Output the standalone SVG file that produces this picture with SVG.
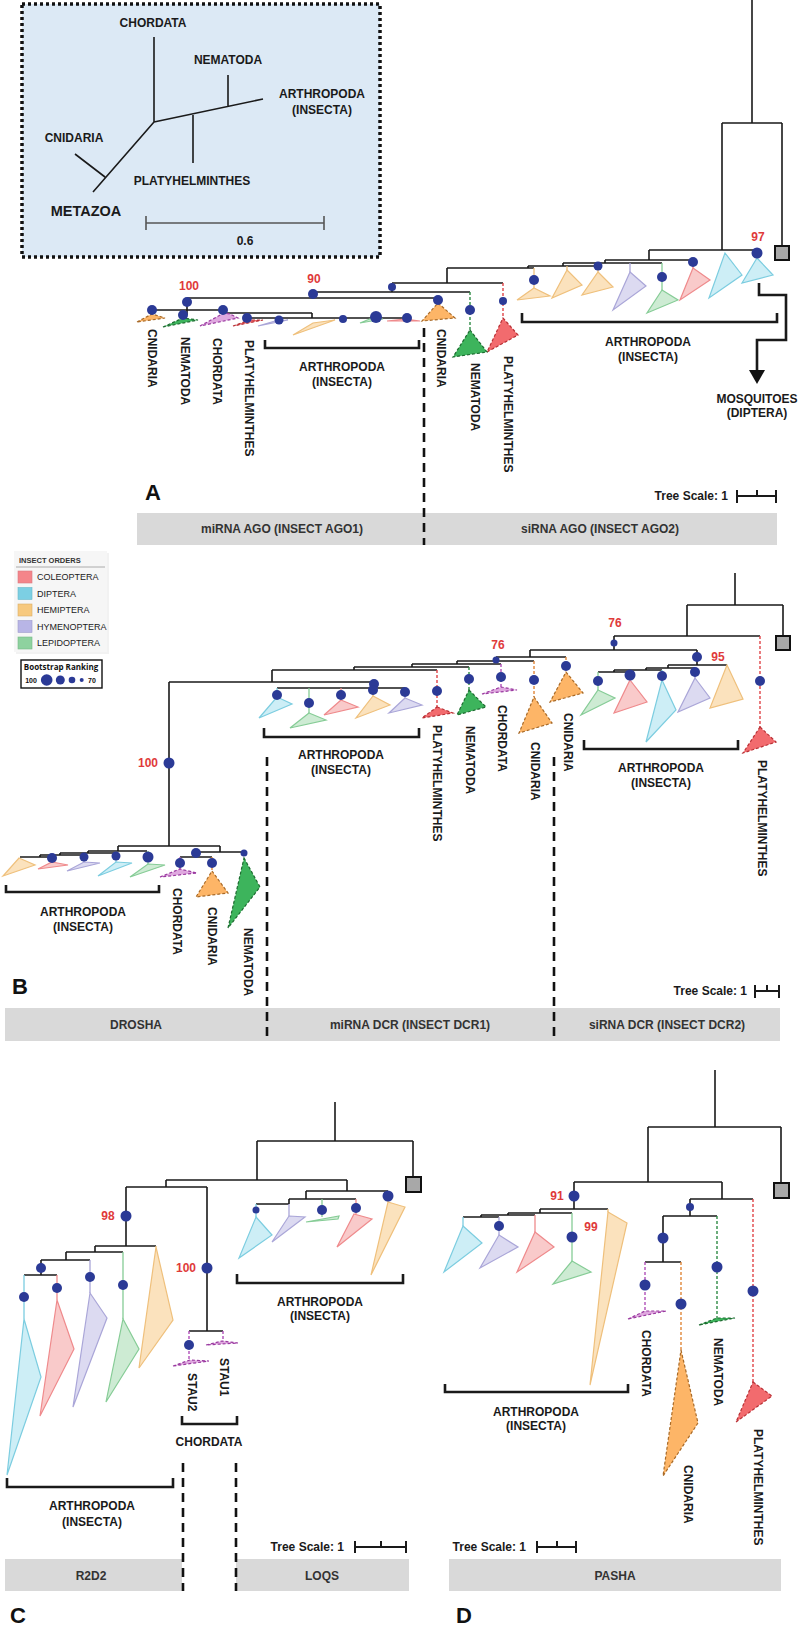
<svg xmlns="http://www.w3.org/2000/svg" width="800" height="1626" viewBox="0 0 800 1626">
<style>
.ln{stroke:#1a1a1a;stroke-width:1.6;fill:none}
.br{stroke:#1a1a1a;stroke-width:2.6;fill:none}
.sc{stroke:#1a1a1a;stroke-width:2;fill:none}
.nd{fill:#2b3a96}
.t{font-family:"Liberation Sans",Arial,sans-serif;font-weight:bold;font-size:12px;fill:#1a1a1a}
.c{text-anchor:middle}
.e{text-anchor:end}
.bs{font-family:"Liberation Sans",Arial,sans-serif;font-weight:bold;font-size:12px;fill:#e03a3a;text-anchor:middle}
.big{font-family:"Liberation Sans",Arial,sans-serif;font-weight:bold;font-size:22px;fill:#111;text-anchor:middle}
.bar{fill:#d9d9d9}
.bt{font-family:"Liberation Sans",Arial,sans-serif;font-weight:bold;font-size:12px;fill:#333;text-anchor:middle}
.sep{stroke:#111;stroke-width:2.6;stroke-dasharray:9 6;fill:none}
.sq{fill:#a8a8a8;stroke:#111;stroke-width:2}
.cy{fill:#cdeef6;stroke:#7ccde0;stroke-width:1.2}
.pk{fill:#f9caca;stroke:#ef8a8c;stroke-width:1.2}
.or{fill:#fbe2bd;stroke:#efc07c;stroke-width:1.2}
.lv{fill:#dcdaf1;stroke:#aaa6d8;stroke-width:1.2}
.gn{fill:#cdebd3;stroke:#86cc96;stroke-width:1.2}
.cn{fill:#fdb567;stroke:#a86a28;stroke-width:1.2;stroke-dasharray:3 2}
.nm{fill:#3db45c;stroke:#1d6b30;stroke-width:1.2;stroke-dasharray:3 2}
.pl{fill:#f26b6e;stroke:#b83035;stroke-width:1.2;stroke-dasharray:3 2}
.ch{fill:#dfa8df;stroke:#9a3aa0;stroke-width:1.2;stroke-dasharray:3 2}
.dcn{stroke:#e0873a;stroke-width:1.4;stroke-dasharray:3 2;fill:none}
.dnm{stroke:#2e8b45;stroke-width:1.4;stroke-dasharray:3 2;fill:none}
.dpl{stroke:#e04448;stroke-width:1.4;stroke-dasharray:3 2;fill:none}
.dch{stroke:#b050b8;stroke-width:1.4;stroke-dasharray:3 2;fill:none}
.lcy{stroke:#7ccde0;stroke-width:1.3;fill:none}
.lpk{stroke:#ef8a8c;stroke-width:1.3;fill:none}
.lor{stroke:#efc07c;stroke-width:1.3;fill:none}
.llv{stroke:#aaa6d8;stroke-width:1.3;fill:none}
.lgn{stroke:#86cc96;stroke-width:1.3;fill:none}
.lt{font-family:"Liberation Sans",Arial,sans-serif;font-size:9px;fill:#222}
</style>

<!-- Inset -->
<g id="inset">
<rect x="22" y="4" width="358" height="253" fill="#dce9f5" stroke="#111" stroke-width="3.5" stroke-dasharray="3 3"/>
<path class="ln" stroke-width="2" d="M154,37 V122 M154,122 L263,99 M228,107 V75 M193,115 V163 M154,122 L93,192 M105,177 L75,154"/>
<text class="t c" x="153" y="27">CHORDATA</text>
<text class="t c" x="228" y="64">NEMATODA</text>
<text class="t c" x="322" y="98">ARTHROPODA</text>
<text class="t c" x="322" y="114">(INSECTA)</text>
<text class="t c" x="74" y="142">CNIDARIA</text>
<text class="t c" x="192" y="185">PLATYHELMINTHES</text>
<text class="t c" x="86" y="216" style="font-size:14.5px">METAZOA</text>
<path d="M146,223 H324 M146,216 V230 M324,216 V230" stroke="#555" stroke-width="1.6" fill="none"/>
<text class="t c" x="245" y="245">0.6</text>
</g>

<!-- Panel A -->
<g id="panelA">
<g id="connectorsA">
<path class="ln" d="M752,0 V123 M722,123 H782 M782,123 V246 M722,123 V250 M649,250 H757 M649,250 V260 M605,260 H693 M605,260 V263 M563,263 H662 M563,263 V266 M528,266 H598 M528,266 V268 M447,268 H534 M447,268 V283 M392,283 H503 M392,283 V292 M313,292 H470 M313,292 V298 M187,298 H438 M187,298 V315 M152,310 H223 M223,313 H312 M312,313 V318 M247,318 H407"/>
<path class="lpk" d="M693,260 V268"/>
<path class="lgn" d="M662,263 V290"/>
<path class="llv" d="M630,263 V272"/>
<path class="lor" d="M598,266 V272 M567,266 V270 M534,268 V288"/>
<path class="lcy" d="M757,250 V258"/>
<path class="dpl" d="M503,283 V318"/>
<path class="dnm" d="M470,292 V330"/>
<path class="dcn" d="M438,298 V303"/>
</g>
<rect class="sq" x="775" y="246" width="14" height="14"/>
<g id="cladesA">
<polygon class="cy" points="757,258 773,275 742,283"/>
<polygon class="cy" points="725,253 742,275 709,298"/>
<polygon class="pk" points="693,268 710,280 680,300"/>
<polygon class="gn" points="662,290 678,300 647,313"/>
<polygon class="lv" points="630,272 646,286 613,310"/>
<polygon class="or" points="598,272 613,287 582,295"/>
<polygon class="or" points="567,270 582,285 552,298"/>
<polygon class="or" points="534,288 550,296 517,300"/>
<polygon class="pl" points="503,318 518,335 487,352"/>
<polygon class="nm" points="470,330 487,352 453,357"/>
<polygon class="cn" points="438,303 455,318 422,321"/>
<polygon class="pk" points="387,321 405,319 420,321"/>
<polygon class="gn" points="360,323 372,318 383,319"/>
<polygon class="or" points="335,320 313,323 293,335"/>
<polygon class="lv" points="258,326 275,321 288,320"/>
<polygon class="pl" points="233,326 250,320 263,320"/>
<polygon class="ch" points="200,326 224,313 230,314 238,318"/>
<polygon class="nm" points="163,327 183,318 198,320"/>
<polygon class="cn" points="137,322 152,314 165,318"/>
</g>
<g id="nodesA">
<circle class="nd" cx="757" cy="253" r="5.5"/>
<circle class="nd" cx="693" cy="262" r="5"/>
<circle class="nd" cx="662" cy="277" r="5"/>
<circle class="nd" cx="598" cy="266" r="4.5"/>
<circle class="nd" cx="534" cy="280" r="5"/>
<circle class="nd" cx="503" cy="301" r="4"/>
<circle class="nd" cx="470" cy="310" r="5"/>
<circle class="nd" cx="438" cy="300" r="5"/>
<circle class="nd" cx="392" cy="287" r="4"/>
<circle class="nd" cx="313" cy="294" r="5"/>
<circle class="nd" cx="187" cy="302" r="5"/>
<circle class="nd" cx="152" cy="310" r="5"/>
<circle class="nd" cx="183" cy="315" r="5"/>
<circle class="nd" cx="223" cy="310" r="5"/>
<circle class="nd" cx="247" cy="318" r="5"/>
<circle class="nd" cx="279" cy="320" r="4.5"/>
<circle class="nd" cx="343" cy="319" r="4"/>
<circle class="nd" cx="376" cy="317" r="6"/>
<circle class="nd" cx="407" cy="318" r="5"/>
</g>
<text class="bs" x="758" y="241">97</text>
<text class="bs" x="189" y="290">100</text>
<text class="bs" x="314" y="283">90</text>
<path class="br" stroke-width="3" d="M759,283 V295 H786 V340 H757 V371"/>
<polygon points="749,370 765,370 757,384" fill="#111"/>
<text class="t c" x="757" y="403">MOSQUITOES</text>
<text class="t c" x="757" y="417">(DIPTERA)</text>
<path class="br" d="M265,340 V348 H419 V340"/>
<text class="t c" x="342" y="371">ARTHROPODA</text>
<text class="t c" x="342" y="386">(INSECTA)</text>
<path class="br" d="M522,313 V322 H777 V313"/>
<text class="t c" x="648" y="346">ARTHROPODA</text>
<text class="t c" x="648" y="361">(INSECTA)</text>
<text class="t" transform="translate(147.7,329) rotate(90)">CNIDARIA</text>
<text class="t" transform="translate(180.7,337) rotate(90)">NEMATODA</text>
<text class="t" transform="translate(212.7,338) rotate(90)">CHORDATA</text>
<text class="t" transform="translate(244.7,340) rotate(90)">PLATYHELMINTHES</text>
<text class="t" transform="translate(436.7,329) rotate(90)">CNIDARIA</text>
<text class="t" transform="translate(470.7,363) rotate(90)">NEMATODA</text>
<text class="t" transform="translate(503.7,356) rotate(90)">PLATYHELMINTHES</text>
<text class="big" x="153" y="500">A</text>
<text class="t e" x="728" y="500">Tree Scale: 1</text>
<path class="sc" d="M737,490 V503 M737,496 H776 M776,490 V503 M757,490 V496"/>
<rect class="bar" x="137" y="513" width="640" height="32"/>
<text class="bt" x="282" y="533">miRNA AGO (INSECT AGO1)</text>
<text class="bt" x="600" y="533">siRNA AGO (INSECT AGO2)</text>
<path class="sep" d="M424,328 V545"/>
</g>

<!-- Legend -->
<g id="legend">
<rect x="16" y="553" width="93" height="101" fill="#eaeaea" opacity="0.6"/>
<rect x="14" y="551" width="93" height="101" fill="#f6f6f6"/>
<text x="19" y="563" style="font-family:'Liberation Sans',Arial,sans-serif;font-size:7.5px;font-weight:bold;fill:#333">INSECT ORDERS</text>
<path d="M16,567 H105" stroke="#999" stroke-width="0.8"/>
<rect x="18" y="571" width="14" height="12" fill="#f4858a" stroke="#d97a80" stroke-width="0.6"/>
<rect x="18" y="587.5" width="14" height="12" fill="#7ccfe3" stroke="#6ab8c9" stroke-width="0.6"/>
<rect x="18" y="604" width="14" height="12" fill="#f7c97e" stroke="#d9ae68" stroke-width="0.6"/>
<rect x="18" y="620.5" width="14" height="12" fill="#b8b5e6" stroke="#9e9bcc" stroke-width="0.6"/>
<rect x="18" y="637" width="14" height="12" fill="#8ed29f" stroke="#77b888" stroke-width="0.6"/>
<text class="lt" x="37" y="580">COLEOPTERA</text>
<text class="lt" x="37" y="596.5">DIPTERA</text>
<text class="lt" x="37" y="613">HEMIPTERA</text>
<text class="lt" x="37" y="629.5">HYMENOPTERA</text>
<text class="lt" x="37" y="646">LEPIDOPTERA</text>
<rect x="21" y="660" width="81" height="28" fill="#fff" stroke="#111" stroke-width="1.4"/>
<text x="61" y="670" style="font-family:'Open Sans','Liberation Sans',sans-serif;font-size:8px;font-weight:bold;fill:#111;text-anchor:middle">Bootstrap Ranking</text>
<text x="31" y="683" style="font-family:'Liberation Sans',Arial,sans-serif;font-size:7px;font-weight:bold;fill:#111;text-anchor:middle">100</text>
<circle class="nd" cx="46.7" cy="680" r="5.8"/>
<circle class="nd" cx="60.3" cy="680" r="4.5"/>
<circle class="nd" cx="72" cy="680" r="3.3"/>
<circle class="nd" cx="81.7" cy="680" r="2"/>
<text x="92" y="683" style="font-family:'Liberation Sans',Arial,sans-serif;font-size:7px;font-weight:bold;fill:#111;text-anchor:middle">70</text>
</g>

<!-- Panel B -->
<g id="panelB">
<g id="connectorsB">
<path class="ln" d="M735,573 V605 M687,605 H783 M783,605 V636 M687,605 V636 M614,636 H760 M614,636 V650 M530,650 H697 M530,650 V657 M496,657 H566 M496,657 V661 M457,661 H534 M457,661 V664 M412,664 H501 M412,664 V667 M354,667 H469 M354,667 V670 M272,670 H437 M272,670 V682 M169,682 H374 M374,682 V688 M277,688 H405 M697,650 V665 M668,665 H727 M668,665 V668 M646,668 H695 M646,668 V670 M614,670 H662 M614,670 V672 M598,672 H630 M169,682 V846 M118,846 H220 M118,846 V851 M88,851 H147 M88,851 V853 M60,853 H116 M60,853 V855 M40,855 H84 M40,855 V857 M20,857 H52 M220,846 V852 M196,852 H244 M196,852 V857 M180,857 H212"/>
<path class="dpl" d="M760,636 V727 M437,670 V707"/>
<path class="dcn" d="M566,657 V672 M534,661 V697 M212,857 V871"/>
<path class="dch" d="M501,664 V689 M180,857 V870"/>
<path class="dnm" d="M469,667 V690"/>
<path class="lgn" d="M598,672 V690 M309,688 V713 M148,851 V864"/>
<path class="lpk" d="M630,672 V680 M341,688 V700 M52,857 V862"/>
<path class="lcy" d="M662,670 V680 M277,688 V697 M116,853 V862"/>
<path class="llv" d="M695,668 V678 M405,688 V698 M84,855 V862"/>
<path class="lor" d="M373,688 V696"/>
</g>
<rect class="sq" x="776" y="636" width="14" height="14"/>
<g id="cladesB">
<polygon class="pl" points="760,727 776,742 743,753"/>
<polygon class="gn" points="598,690 615,698 581,715"/>
<polygon class="pk" points="630,680 647,702 614,713"/>
<polygon class="cy" points="662,680 676,710 646,742"/>
<polygon class="lv" points="695,678 710,698 678,712"/>
<polygon class="or" points="727,665 743,699 710,708"/>
<polygon class="cn" points="566,672 583,693 550,702"/>
<polygon class="cn" points="534,697 552,723 519,733"/>
<polygon class="ch" points="482,694 501,687 517,690"/>
<polygon class="nm" points="469,690 486,707 457,715"/>
<polygon class="pl" points="437,707 453,713 422,718"/>
<polygon class="cy" points="277,697 292,704 259,718"/>
<polygon class="gn" points="309,713 326,720 290,728"/>
<polygon class="pk" points="341,700 358,707 324,715"/>
<polygon class="or" points="373,696 390,705 356,718"/>
<polygon class="lv" points="405,698 422,705 389,713"/>
<polygon class="or" points="19,858 35,865 3,876"/>
<polygon class="pk" points="52,862 68,865 38,869"/>
<polygon class="lv" points="84,862 100,863 67,871"/>
<polygon class="cy" points="116,862 132,863 98,876"/>
<polygon class="gn" points="148,864 165,865 130,877"/>
<polygon class="ch" points="160,877 180,869 197,873"/>
<polygon class="cn" points="212,871 228,893 196,897"/>
<polygon class="nm" points="244,858 260,887 228,928"/>
</g>
<g id="nodesB">
<circle class="nd" cx="614" cy="643" r="3.5"/>
<circle class="nd" cx="697" cy="657" r="5"/>
<circle class="nd" cx="760" cy="681" r="5"/>
<circle class="nd" cx="598" cy="681" r="5"/>
<circle class="nd" cx="630" cy="675" r="5.5"/>
<circle class="nd" cx="662" cy="676" r="5"/>
<circle class="nd" cx="695" cy="672" r="5"/>
<circle class="nd" cx="566" cy="666" r="5"/>
<circle class="nd" cx="496" cy="660" r="3.5"/>
<circle class="nd" cx="534" cy="680" r="5"/>
<circle class="nd" cx="501" cy="677" r="5"/>
<circle class="nd" cx="469" cy="679" r="5"/>
<circle class="nd" cx="437" cy="691" r="5"/>
<circle class="nd" cx="374" cy="684" r="5"/>
<circle class="nd" cx="277" cy="695" r="5"/>
<circle class="nd" cx="309" cy="703" r="5"/>
<circle class="nd" cx="341" cy="695" r="5"/>
<circle class="nd" cx="373" cy="690" r="5"/>
<circle class="nd" cx="405" cy="692" r="5"/>
<circle class="nd" cx="169" cy="763" r="5.5"/>
<circle class="nd" cx="148" cy="857" r="5.5"/>
<circle class="nd" cx="116" cy="856" r="4.5"/>
<circle class="nd" cx="84" cy="857" r="4.5"/>
<circle class="nd" cx="52" cy="858" r="5"/>
<circle class="nd" cx="196" cy="853" r="5"/>
<circle class="nd" cx="180" cy="863" r="5"/>
<circle class="nd" cx="212" cy="863" r="5"/>
<circle class="nd" cx="244" cy="853" r="3.5"/>
</g>
<text class="bs" x="615" y="627">76</text>
<text class="bs" x="498" y="649">76</text>
<text class="bs" x="718" y="661">95</text>
<text class="bs" x="148" y="767">100</text>
<path class="br" d="M584,740 V749 H738 V740"/>
<text class="t c" x="661" y="772">ARTHROPODA</text>
<text class="t c" x="661" y="787">(INSECTA)</text>
<path class="br" d="M264,728 V737 H419 V728"/>
<text class="t c" x="341" y="759">ARTHROPODA</text>
<text class="t c" x="341" y="774">(INSECTA)</text>
<path class="br" d="M6,885 V892 H159 V885"/>
<text class="t c" x="83" y="916">ARTHROPODA</text>
<text class="t c" x="83" y="931">(INSECTA)</text>
<text class="t" transform="translate(757.7,760) rotate(90)">PLATYHELMINTHES</text>
<text class="t" transform="translate(432.7,725) rotate(90)">PLATYHELMINTHES</text>
<text class="t" transform="translate(465.7,726) rotate(90)">NEMATODA</text>
<text class="t" transform="translate(497.7,705) rotate(90)">CHORDATA</text>
<text class="t" transform="translate(530.7,742) rotate(90)">CNIDARIA</text>
<text class="t" transform="translate(563.7,713) rotate(90)">CNIDARIA</text>
<text class="t" transform="translate(172.7,888) rotate(90)">CHORDATA</text>
<text class="t" transform="translate(207.7,907) rotate(90)">CNIDARIA</text>
<text class="t" transform="translate(243.7,928) rotate(90)">NEMATODA</text>
<text class="big" x="20" y="994">B</text>
<text class="t e" x="747" y="995">Tree Scale: 1</text>
<path class="sc" d="M755,985 V998 M755,991 H779 M779,985 V998 M767,985 V991"/>
<rect class="bar" x="5" y="1008" width="775" height="33"/>
<text class="bt" x="136" y="1029">DROSHA</text>
<text class="bt" x="410" y="1029">miRNA DCR (INSECT DCR1)</text>
<text class="bt" x="667" y="1029">siRNA DCR (INSECT DCR2)</text>
<path class="sep" d="M267,757 V1041 M554,757 V1041"/>
</g>

<!-- Panel C -->
<g id="panelC">
<g id="connectorsC">
<path class="ln" d="M335,1102 V1141 M257,1141 H413 M413,1141 V1177 M257,1141 V1180 M166,1180 H347 M347,1180 V1191 M306,1191 H388 M306,1191 V1199 M289,1199 H356 M289,1199 V1204 M256,1204 H289 M166,1180 V1187 M126,1187 H207 M207,1187 V1331 M189,1331 H223 M126,1187 V1246 M95,1246 H156 M95,1246 V1252 M66,1252 H123 M66,1252 V1260 M41,1260 H90 M41,1260 V1275 M24,1275 H57"/>
<path class="lor" d="M388,1191 V1202 M156,1246 V1247"/>
<path class="lpk" d="M356,1199 V1214 M57,1275 V1300"/>
<path class="lgn" d="M322,1199 V1217 M123,1252 V1319"/>
<path class="llv" d="M289,1204 V1216 M90,1260 V1293"/>
<path class="lcy" d="M256,1204 V1217 M24,1275 V1319"/>
<path class="dch" d="M189,1331 V1362 M223,1331 V1343"/>
</g>
<rect class="sq" x="406" y="1177" width="15" height="15"/>
<g id="cladesC">
<polygon class="cy" points="256,1217 272,1235 239,1258"/>
<polygon class="lv" points="289,1216 305,1217 272,1242"/>
<polygon class="gn" points="306,1222 339,1216 338,1219"/>
<polygon class="pk" points="354,1214 372,1219 337,1247"/>
<polygon class="or" points="388,1202 405,1207 371,1275"/>
<polygon class="cy" points="24,1319 41,1377 7,1475"/>
<polygon class="pk" points="57,1300 74,1349 40,1416"/>
<polygon class="lv" points="90,1293 107,1318 73,1407"/>
<polygon class="gn" points="123,1319 139,1349 106,1402"/>
<polygon class="or" points="156,1247 173,1320 139,1368"/>
<polygon class="ch" points="173,1366 190,1360 209,1361"/>
<polygon class="ch" points="206,1345 222,1341 238,1343"/>
</g>
<g id="nodesC">
<circle class="nd" cx="388" cy="1196" r="5.5"/>
<circle class="nd" cx="356" cy="1208" r="5"/>
<circle class="nd" cx="322" cy="1210" r="5"/>
<circle class="nd" cx="256" cy="1210" r="3.5"/>
<circle class="nd" cx="126" cy="1216" r="5.5"/>
<circle class="nd" cx="207" cy="1268" r="5.5"/>
<circle class="nd" cx="41" cy="1268" r="5"/>
<circle class="nd" cx="24" cy="1297" r="5"/>
<circle class="nd" cx="57" cy="1288" r="5"/>
<circle class="nd" cx="90" cy="1277" r="5"/>
<circle class="nd" cx="123" cy="1285" r="5"/>
<circle class="nd" cx="189" cy="1345" r="5"/>
</g>
<text class="bs" x="108" y="1220">98</text>
<text class="bs" x="186" y="1272">100</text>
<path class="br" d="M237,1274 V1283 H403 V1274"/>
<text class="t c" x="320" y="1306">ARTHROPODA</text>
<text class="t c" x="320" y="1320">(INSECTA)</text>
<path class="br" d="M7,1478 V1487 H173 V1478"/>
<text class="t c" x="92" y="1510">ARTHROPODA</text>
<text class="t c" x="92" y="1526">(INSECTA)</text>
<path class="br" d="M182,1416 V1424 H237 V1416"/>
<text class="t c" x="209" y="1446">CHORDATA</text>
<text class="t" transform="translate(187.7,1373) rotate(90)">STAU2</text>
<text class="t" transform="translate(219.7,1358) rotate(90)">STAU1</text>
<text class="t e" x="344" y="1551">Tree Scale: 1</text>
<path class="sc" d="M355,1541 V1553 M355,1547 H406 M406,1541 V1553 M381,1541 V1547"/>
<rect class="bar" x="5" y="1559" width="177" height="32"/>
<rect class="bar" x="236" y="1559" width="173" height="32"/>
<text class="bt" x="91" y="1580">R2D2</text>
<text class="bt" x="322" y="1580">LOQS</text>
<path class="sep" d="M183,1463 V1591 M236,1463 V1591"/>
<text class="big" x="18" y="1623">C</text>
</g>

<!-- Panel D -->
<g id="panelD">
<g id="connectorsD">
<path class="ln" d="M715,1070 V1127 M648,1127 H781 M781,1127 V1183 M648,1127 V1182 M574,1182 H722 M574,1182 V1209 M540,1209 H608 M540,1209 V1213 M508,1213 H572 M508,1213 V1215 M481,1215 H535 M481,1215 V1217 M463,1217 H499 M722,1182 V1199 M690,1199 H753 M690,1199 V1216 M663,1216 H717 M663,1216 V1262 M645,1262 H681"/>
<path class="lcy" d="M463,1217 V1226"/>
<path class="llv" d="M499,1217 V1235"/>
<path class="lpk" d="M535,1215 V1232"/>
<path class="lgn" d="M572,1213 V1261"/>
<path class="lor" d="M608,1209 V1212"/>
<path class="dpl" d="M753,1199 V1382"/>
<path class="dnm" d="M717,1216 V1320"/>
<path class="dch" d="M645,1262 V1313"/>
<path class="dcn" d="M681,1262 V1350"/>
</g>
<rect class="sq" x="774" y="1183" width="15" height="15"/>
<g id="cladesD">
<polygon class="cy" points="463,1226 482,1243 444,1272"/>
<polygon class="lv" points="499,1235 518,1247 480,1268"/>
<polygon class="pk" points="535,1232 554,1247 517,1272"/>
<polygon class="gn" points="572,1261 591,1272 553,1284"/>
<polygon class="or" points="608,1212 627,1223 590,1385"/>
<polygon class="pl" points="753,1382 772,1396 736,1422"/>
<polygon class="nm" points="699,1325 717,1318 735,1318"/>
<polygon class="ch" points="628,1319 645,1311 666,1311"/>
<polygon class="cn" points="681,1350 698,1423 663,1476"/>
</g>
<g id="nodesD">
<circle class="nd" cx="574" cy="1196" r="5.5"/>
<circle class="nd" cx="499" cy="1226" r="5"/>
<circle class="nd" cx="572" cy="1237" r="5.5"/>
<circle class="nd" cx="690" cy="1207" r="4"/>
<circle class="nd" cx="663" cy="1238" r="5.5"/>
<circle class="nd" cx="717" cy="1267" r="5.5"/>
<circle class="nd" cx="645" cy="1285" r="5.5"/>
<circle class="nd" cx="681" cy="1304" r="5.5"/>
<circle class="nd" cx="753" cy="1291" r="5.5"/>
</g>
<text class="bs" x="557" y="1200">91</text>
<text class="bs" x="591" y="1231">99</text>
<path class="br" d="M445,1384 V1392 H628 V1384"/>
<text class="t c" x="536" y="1416">ARTHROPODA</text>
<text class="t c" x="536" y="1430">(INSECTA)</text>
<text class="t" transform="translate(641.7,1330) rotate(90)">CHORDATA</text>
<text class="t" transform="translate(713.7,1338) rotate(90)">NEMATODA</text>
<text class="t" transform="translate(683.7,1465) rotate(90)">CNIDARIA</text>
<text class="t" transform="translate(753.7,1429) rotate(90)">PLATYHELMINTHES</text>
<text class="t e" x="526" y="1551">Tree Scale: 1</text>
<path class="sc" d="M537,1541 V1553 M537,1547 H576 M576,1541 V1553 M557,1541 V1547"/>
<rect class="bar" x="449" y="1559" width="332" height="32"/>
<text class="bt" x="615" y="1580">PASHA</text>
<text class="big" x="464" y="1623">D</text>
</g>
</svg>
